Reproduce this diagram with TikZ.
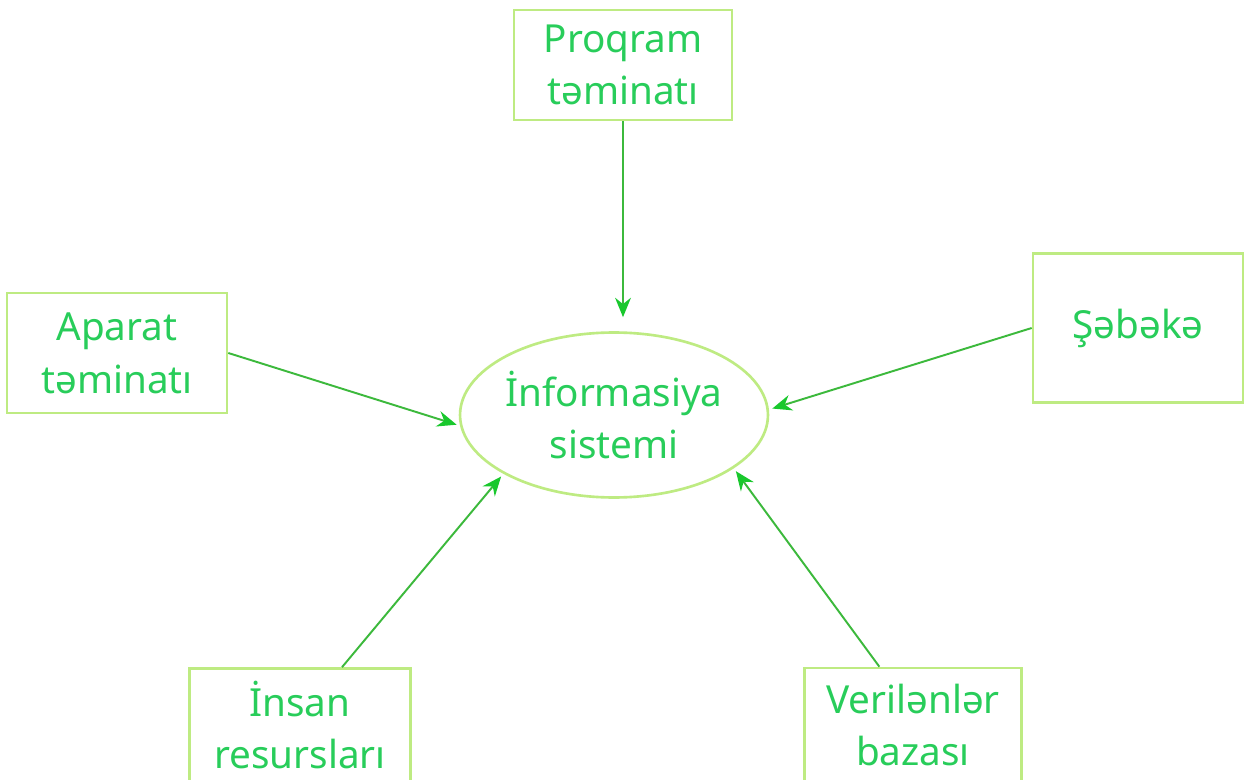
\documentclass[tikz,border=0pt]{standalone}
\usepackage{fontspec}
\setmainfont{Noto Sans}
\usepackage{tikz}
\usetikzlibrary{arrows.meta,positioning,shapes.geometric}
\definecolor{TextGreen}{RGB}{40,205,90}
\definecolor{BoxLime}{RGB}{190,235,130}
\definecolor{ArrowGreen}{RGB}{60,185,60}
\definecolor{TipGreen}{RGB}{25,200,45}

\begin{document}
\begin{tikzpicture}[x=0.02cm, y=-0.02cm, >={Stealth[length=11pt,width=9pt,color=TipGreen]},
    font=\fontsize{22}{30}\selectfont,
    part/.style={draw=BoxLime, line width=1.5pt, text=TextGreen, align=center, inner sep=0pt},
    core/.style={draw=BoxLime, line width=1.5pt, ellipse, text=TextGreen, align=center, inner sep=0pt,
      minimum width=6.16cm, minimum height=3.3cm},
    link/.style={->, draw=ArrowGreen, line width=1.1pt}]
  \useasboundingbox (0,0) rectangle (1247,780);
  \clip (0,0) rectangle (1247,780);
  \fill[white] (0,0) rectangle (1247,780);

  \node[core] (info) at (614,415) {İnformasiya\\sistemi};
  \node[part, minimum width=4.36cm, minimum height=2.2cm] (prog) at (623,65) {Proqram\\təminatı};
  \node[part, minimum width=4.4cm, minimum height=2.4cm] (aparat) at (117,353) {Aparat\\təminatı};
  \node[part, minimum width=4.2cm, minimum height=2.98cm] (sebeke) at (1138,328) {Şəbəkə};
  \node[part, minimum width=4.42cm, minimum height=2.26cm] (insan) at (300,725) {İnsan\\resursları};
  \node[part, minimum width=4.34cm, minimum height=2.28cm] (verilen) at (913,725) {Verilənlər\\bazası};

  \draw[link, shorten >=8pt] (prog.south) -- (prog.south |- info.north);
  \draw[link, shorten >=2pt] (aparat.east) -- (info.184);
  \draw[link, shorten >=2pt] (sebeke.west) -- (info.2);
  \draw[link, shorten >=2pt] (insan.54) -- (info.208);
  \draw[link, shorten >=2pt] (verilen.120) -- (info.336);
\end{tikzpicture}
\end{document}
